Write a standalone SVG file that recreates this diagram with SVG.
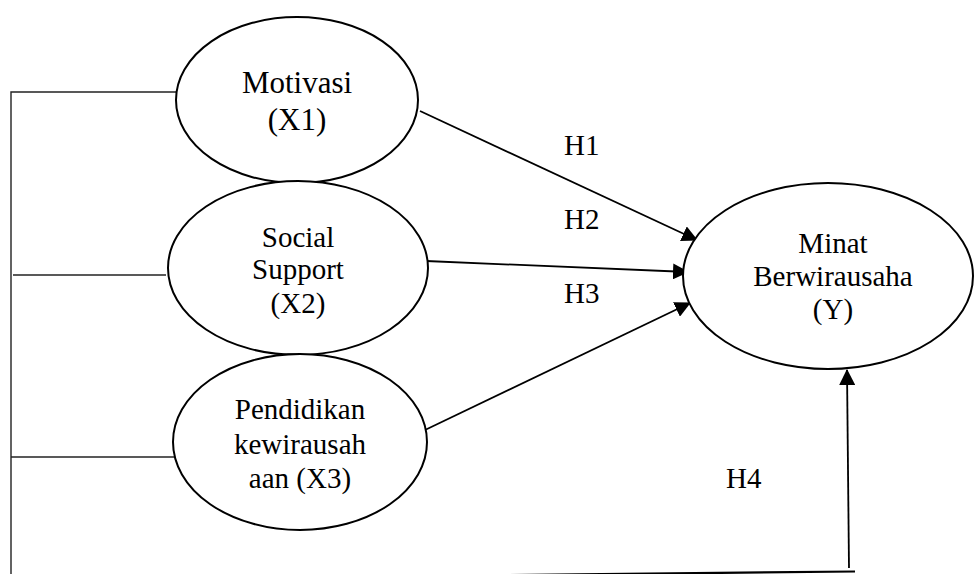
<svg xmlns="http://www.w3.org/2000/svg" width="974" height="574" viewBox="0 0 974 574">
<style>
.n{fill:#fff;stroke:#000;stroke-width:2}
.t{font-family:"Liberation Serif","Times New Roman",serif;font-size:29px;fill:#000;text-anchor:middle}
.h{font-family:"Liberation Serif","Times New Roman",serif;font-size:29px;fill:#000}
.c{fill:none;stroke:#222;stroke-width:1.4}
.a{fill:none;stroke:#000;stroke-width:1.8}
</style>
<defs>
<marker id="arr" viewBox="0 0 16 16" refX="15" refY="8" markerWidth="16" markerHeight="16" markerUnits="userSpaceOnUse" orient="auto">
<path d="M0,0 L16,8 L0,16 Z" fill="#000"/>
</marker>
</defs>
<rect width="974" height="574" fill="#fff"/>
<g id="connectors">
<polyline class="c" points="177,92 11,92 11,574"/>
<line class="c" x1="13" y1="275" x2="166" y2="275"/>
<line class="c" x1="11" y1="457" x2="181" y2="457"/>
<line class="a" x1="420" y1="111" x2="697" y2="240" marker-end="url(#arr)"/>
<line class="a" x1="426" y1="261" x2="688" y2="272" marker-end="url(#arr)"/>
<line class="a" x1="425" y1="430" x2="690" y2="303" marker-end="url(#arr)"/>
<line class="a" x1="849" y1="568" x2="847" y2="370" marker-end="url(#arr)"/>
<line x1="480" y1="575.4" x2="855" y2="571.5" stroke="#000" stroke-width="2.2"/>
</g>
<g id="node-motivasi">
<ellipse class="n" cx="297" cy="100" rx="121" ry="83"/>
<text class="t" style="font-size:31px" x="297" y="93">Motivasi</text>
<text class="t" style="font-size:31px" x="297" y="130">(X1)</text>
</g>
<g id="node-social">
<ellipse class="n" cx="298" cy="268" rx="130" ry="87"/>
<text class="t" x="298" y="247">Social</text>
<text class="t" x="298" y="279">Support</text>
<text class="t" x="298" y="313">(X2)</text>
</g>
<g id="node-pendidikan">
<ellipse class="n" cx="300" cy="442" rx="127" ry="88"/>
<text class="t" x="300" y="419">Pendidikan</text>
<text class="t" x="300" y="454">kewirausah</text>
<text class="t" x="300" y="488">aan (X3)</text>
</g>
<g id="node-minat">
<ellipse class="n" cx="828" cy="276" rx="145" ry="93"/>
<text class="t" x="833" y="253">Minat</text>
<text class="t" x="833" y="286">Berwirausaha</text>
<text class="t" x="833" y="319">(Y)</text>
</g>
<g id="labels">
<text class="h" x="564" y="155">H1</text>
<text class="h" x="564" y="229">H2</text>
<text class="h" x="564" y="303">H3</text>
<text class="h" x="726" y="488">H4</text>
</g>
</svg>
